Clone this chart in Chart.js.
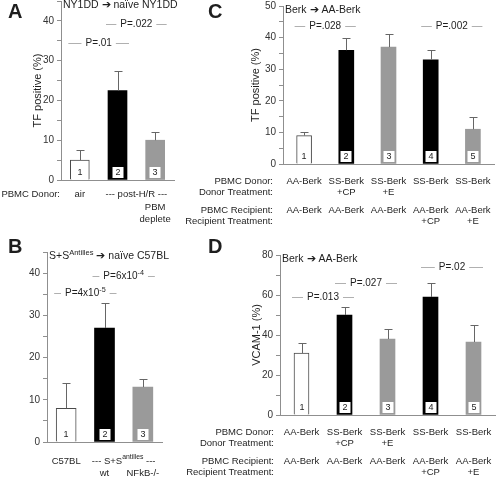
<!DOCTYPE html>
<html>
<head>
<meta charset="utf-8">
<script src="https://cdn.jsdelivr.net/npm/chart.js@4.4.1/dist/chart.umd.min.js"></script>
<style>
  html, body { margin: 0; padding: 0; background: #fff; }
  #wrap { position: relative; width: 497px; height: 477px; overflow: hidden; }
  #wrap canvas { position: absolute; left: 0; top: 0; }
</style>
</head>
<body>
<div id="wrap">
  <canvas id="chartA" width="497" height="477"></canvas>
  <canvas id="chartB" width="497" height="477"></canvas>
  <canvas id="chartC" width="497" height="477"></canvas>
  <canvas id="chartD" width="497" height="477"></canvas>
</div>
<script>
// ---- data ----
// A: NY1DD -> naive NY1DD
const aDonor = ['air', 'post-H/R', 'post-H/R'];
const aDepletion = ['', '', 'PBM\ndeplete'];
const aValues = [5, 22.5, 10];
const aErrors = [2.5, 5, 2];
const aStats = [
  {from: 0, to: 1, level: 34.5, text: 'P=.01'},
  {from: 1, to: 2, level: 39.2, text: 'P=.022'}
];

// B: S+S Antilles -> naive C57BL
const bDonor = ['C57BL', 'S+S^{antilles}', 'S+S^{antilles}'];
const bGenotype = ['', 'wt', 'NFkB-/-'];
const bValues = [8, 27, 13];
const bErrors = [6, 6, 2];
const bStats = [
  {from: 0, to: 1, level: 35.3, text: 'P=4x10^{-5}'},
  {from: 1, to: 2, level: 39.2, text: 'P=6x10^{-4}'}
];

// C and D share the transfer groups
const donor = ['AA-Berk', 'SS-Berk', 'SS-Berk', 'SS-Berk', 'SS-Berk'];
const donorTreatment = ['', '+CP', '+E', '', ''];
const recipient = ['AA-Berk', 'AA-Berk', 'AA-Berk', 'AA-Berk', 'AA-Berk'];
const recipientTreatment = ['', '', '', '+CP', '+E'];

const cValues = [9, 36, 37, 33, 11];
const cErrors = [1, 4, 4, 3, 4];
const cStats = [
  {from: 0, to: 1, level: 43.7, text: 'P=.028'},
  {from: 3, to: 4, level: 43.7, text: 'P=.002'}
];

const dValues = [31, 50, 38, 59, 36.5];
const dErrors = [5, 4, 5, 7, 8.5];
const dStats = [
  {from: 0, to: 1, level: 59, text: 'P=.013'},
  {from: 1, to: 2, level: 66, text: 'P=.027'},
  {from: 3, to: 4, level: 74, text: 'P=.02'}
];

// ---- styles ----
const FONT = 'Arial, "Liberation Sans", Helvetica, sans-serif';
const WHITE = '#ffffff', BLACK = '#000000', GRAY = '#9a9a9a';
const AXIS = '#8f8f8f', TXT = '#1e1e1e', ERR = '#666666', PLINE = '#b0b0b0';

// text with ^{superscript} parts
function rich(ctx, str, x, y, align, size) {
  const parts = [];
  str.split(/(\^\{[^}]*\})/).forEach(s => {
    if (!s) return;
    if (s.startsWith('^{')) parts.push({t: s.slice(2, -1), sup: true});
    else parts.push({t: s, sup: false});
  });
  const font = p => (p.sup ? size * 0.72 : size) + 'px ' + FONT;
  const widths = parts.map(p => { ctx.font = font(p); return ctx.measureText(p.t).width; });
  const total = widths.reduce((a, b) => a + b, 0);
  let cx = align === 'center' ? x - total / 2 : align === 'right' ? x - total : x;
  const left = cx;
  ctx.textAlign = 'left';
  ctx.textBaseline = 'middle';
  parts.forEach((p, i) => {
    ctx.font = font(p);
    ctx.fillText(p.t, cx, p.sup ? y - size * 0.38 : y);
    cx += widths[i];
  });
  return [left, cx];
}

// error bars, number boxes, P lines, titles and the group labels under the axis
function decor(cfg) {
  return {
    id: 'decor',
    afterDatasetsDraw(chart) {
      const ctx = chart.ctx;
      const area = chart.chartArea;
      const yS = chart.scales.y;
      const bars = chart.getDatasetMeta(0).data;
      ctx.save();

      ctx.strokeStyle = ERR;
      ctx.lineWidth = 1;
      cfg.values.forEach((v, i) => {
        const x = Math.round(bars[i].x) + 0.5;
        const y0 = yS.getPixelForValue(v);
        const y1 = Math.round(yS.getPixelForValue(v + cfg.errors[i])) + 0.5;
        ctx.beginPath();
        ctx.moveTo(x, y0); ctx.lineTo(x, y1);
        ctx.moveTo(x - 4, y1); ctx.lineTo(x + 4, y1);
        ctx.stroke();
      });

      bars.forEach((b, i) => {
        const cy = area.bottom - 7.5;
        ctx.fillStyle = WHITE;
        ctx.fillRect(Math.round(b.x) - 5.5, cy - 5.5, 11, 11);
        ctx.fillStyle = TXT;
        ctx.font = '9px ' + FONT;
        ctx.textAlign = 'center';
        ctx.textBaseline = 'middle';
        ctx.fillText(String(i + 1), Math.round(b.x), cy + 0.5);
      });

      cfg.stats.forEach(p => {
        const bw = bars[p.from].width;
        const x1 = bars[p.from].x - bw / 2 - 2;
        const x2 = bars[p.to].x + bw / 2 + 2;
        const yy = Math.round(yS.getPixelForValue(p.level)) + 0.5;
        ctx.fillStyle = TXT;
        const [l, r] = rich(ctx, p.text, (x1 + x2) / 2, yy, 'center', 10);
        ctx.strokeStyle = PLINE;
        ctx.beginPath();
        ctx.moveTo(x1, yy); ctx.lineTo(l - 4, yy);
        ctx.moveTo(r + 4, yy); ctx.lineTo(x2, yy);
        ctx.stroke();
      });

      ctx.fillStyle = TXT;
      rich(ctx, cfg.title, area.left + 2, area.top + 4.5, 'left', 10.5);

      ctx.font = 'bold 20px ' + FONT;
      ctx.textAlign = 'left';
      ctx.textBaseline = 'alphabetic';
      ctx.fillText(cfg.letter[0], cfg.letter[1], cfg.letter[2]);

      cfg.rows.forEach(row => {
        const y = area.bottom + row.dy;
        ctx.fillStyle = TXT;
        if (row.header) rich(ctx, row.header, cfg.headerX, y, 'right', 9.5);
        let i = 0;
        while (i < row.cells.length) {
          let j = i;
          if (row.span) while (j + 1 < row.cells.length && row.cells[j + 1] === row.cells[i]) j++;
          const txt = row.cells[i];
          if (txt) {
            const x = (bars[i].x + bars[j].x) / 2;
            const label = j > i ? '--- ' + txt + ' ---' : txt;
            label.split('\n').forEach((line, k) => rich(ctx, line, x, y + k * 12, 'center', 9.5));
          }
          i = j + 1;
        }
      });
      ctx.restore();
    }
  };
}

function makePanel(id, cfg) {
  const a = cfg.area;
  return new Chart(document.getElementById(id), {
    type: 'bar',
    data: {
      labels: cfg.values.map((v, i) => String(i + 1)),
      datasets: [{
        data: cfg.values,
        backgroundColor: cfg.colors,
        borderColor: cfg.colors.map(c => c === WHITE ? '#4a4a4a' : c),
        borderWidth: cfg.colors.map(c => c === WHITE ? 1 : 0),
        barThickness: cfg.barWidth
      }]
    },
    options: {
      responsive: false,
      animation: false,
      devicePixelRatio: 1,
      layout: {padding: {left: a.left - cfg.yWidth, right: 497 - a.right, top: a.top, bottom: 477 - a.bottom}},
      plugins: {legend: {display: false}, tooltip: {enabled: false}},
      scales: {
        x: {
          grid: {display: false},
          ticks: {display: false},
          border: {color: AXIS, width: 1},
          afterFit: s => { s.height = 0; s.paddingLeft = 0; s.paddingRight = 0; }
        },
        y: {
          min: 0,
          max: cfg.max,
          ticks: {
            stepSize: cfg.step,
            autoSkip: false,
            padding: 3,
            color: '#333',
            font: {family: FONT, size: 10},
            callback: v => v % cfg.labelEvery === 0 ? String(v) : ''
          },
          grid: {drawOnChartArea: false, drawTicks: true, tickLength: 4, color: AXIS},
          border: {color: AXIS, width: 1},
          title: {
            display: !!cfg.yTitle,
            text: cfg.yTitle || '',
            color: TXT,
            padding: 0,
            font: {family: FONT, size: 11}
          },
          afterFit: s => { s.width = cfg.yWidth; s.paddingTop = 0; s.paddingBottom = 0; }
        }
      }
    },
    plugins: [decor(cfg)]
  });
}

makePanel('chartA', {
  values: aValues, errors: aErrors, stats: aStats,
  colors: [WHITE, BLACK, GRAY],
  title: 'NY1DD \u2794 na\u00efve NY1DD',
  letter: ['A', 8, 18],
  yTitle: 'TF positive (%)',
  area: {left: 61, right: 174, top: 1, bottom: 180},
  yWidth: 30, max: 45, step: 5, labelEvery: 10, barWidth: 19,
  headerX: 60,
  rows: [
    {dy: 14, header: 'PBMC Donor:', cells: aDonor, span: true},
    {dy: 27, cells: aDepletion}
  ]
});

makePanel('chartB', {
  values: bValues, errors: bErrors, stats: bStats,
  colors: [WHITE, BLACK, GRAY],
  title: 'S+S^{Antilles} \u2794 na\u00efve C57BL',
  letter: ['B', 8, 253],
  area: {left: 47, right: 162, top: 252, bottom: 442},
  yWidth: 30, max: 45, step: 5, labelEvery: 10, barWidth: 20,
  headerX: 46,
  rows: [
    {dy: 19, cells: bDonor, span: true},
    {dy: 31, cells: bGenotype}
  ]
});

const transferRows = [
  {dy: 17, header: 'PBMC Donor:', cells: donor},
  {dy: 28, header: 'Donor Treatment:', cells: donorTreatment},
  {dy: 46, header: 'PBMC Recipient:', cells: recipient},
  {dy: 57, header: 'Recipient Treatment:', cells: recipientTreatment}
];

makePanel('chartC', {
  values: cValues, errors: cErrors, stats: cStats,
  colors: [WHITE, BLACK, GRAY, BLACK, GRAY],
  title: 'Berk \u2794 AA-Berk',
  letter: ['C', 208, 18],
  yTitle: 'TF positive (%)',
  area: {left: 283, right: 494, top: 6, bottom: 164},
  yWidth: 34, max: 50, step: 5, labelEvery: 10, barWidth: 15,
  headerX: 273,
  rows: transferRows
});

makePanel('chartD', {
  values: dValues, errors: dErrors, stats: dStats,
  colors: [WHITE, BLACK, GRAY, BLACK, GRAY],
  title: 'Berk \u2794 AA-Berk',
  letter: ['D', 208, 253],
  yTitle: 'VCAM-1 (%)',
  area: {left: 280, right: 495, top: 255, bottom: 415},
  yWidth: 30, max: 80, step: 10, labelEvery: 20, barWidth: 15,
  headerX: 274,
  rows: transferRows
});
</script>
</body>
</html>
